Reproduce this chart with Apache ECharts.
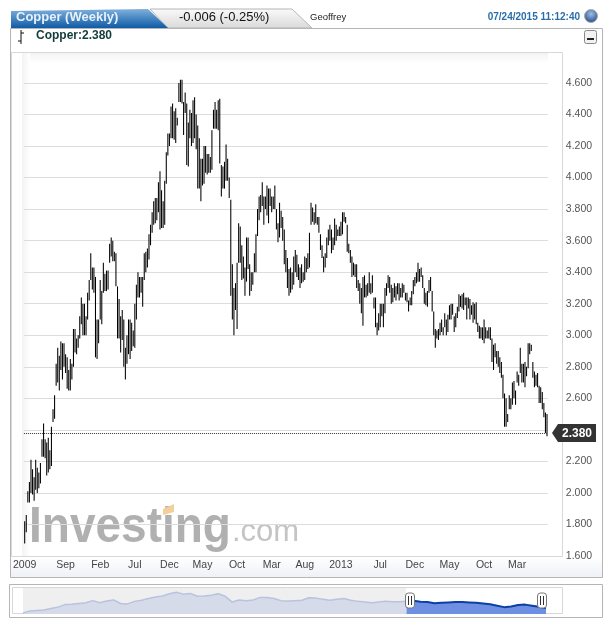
<!DOCTYPE html>
<html>
<head>
<meta charset="utf-8">
<title>Copper (Weekly)</title>
<style>
html, body { margin: 0; padding: 0; background: #fff; }
#chart { width: 613px; height: 627px; }
</style>
<script src="https://cdn.jsdelivr.net/npm/echarts@6/dist/echarts.min.js"></script>
</head>
<body>
<div id="chart"></div>
<script>
// weekly highs, ten bars per row
var highs = [
    1.82,1.86,2.01,2.07,2.21,2.15,2.10,2.21,2.16,2.13,
    2.19,2.34,2.44,2.34,2.32,2.35,2.27,2.42,2.53,2.62,
    2.82,2.92,2.87,2.96,2.95,2.95,2.88,2.86,2.78,2.85,
    2.82,3.04,3.04,2.98,3.00,3.12,3.24,3.20,3.20,3.12,
    3.27,3.35,3.52,3.43,3.43,3.37,3.10,3.10,3.35,3.28,
    3.46,3.39,3.41,3.41,3.58,3.62,3.60,3.53,3.52,3.31,
    3.23,3.12,3.16,3.10,2.92,3.00,3.10,3.10,3.08,3.03,
    3.20,3.32,3.40,3.37,3.37,3.37,3.52,3.53,3.55,3.64,
    3.70,3.78,3.85,3.87,3.87,3.97,4.04,3.92,3.85,3.98,
    4.16,4.28,4.28,4.45,4.47,4.42,4.44,4.38,4.60,4.62,
    4.62,4.48,4.54,4.47,4.35,4.43,4.41,4.49,4.51,4.40,
    4.33,4.25,4.12,4.12,4.20,4.20,4.15,4.15,4.13,4.30,
    4.43,4.48,4.43,4.49,4.50,4.08,4.07,4.10,4.21,4.12,
    4.00,3.86,3.45,3.30,3.33,3.46,3.71,3.69,3.57,3.50,
    3.43,3.62,3.62,3.45,3.40,3.40,3.52,3.64,3.80,3.88,
    3.89,3.97,3.88,3.88,3.95,3.93,3.93,3.88,3.88,3.95,
    3.80,3.71,3.84,3.79,3.75,3.67,3.54,3.49,3.42,3.43,
    3.40,3.50,3.54,3.51,3.45,3.43,3.45,3.40,3.50,3.49,
    3.52,3.65,3.84,3.81,3.78,3.83,3.75,3.75,3.64,3.57,
    3.50,3.52,3.62,3.67,3.70,3.67,3.62,3.74,3.70,3.67,
    3.69,3.72,3.78,3.78,3.75,3.70,3.58,3.54,3.50,3.46,
    3.45,3.45,3.35,3.33,3.30,3.37,3.38,3.32,3.33,3.40,
    3.33,3.38,3.24,3.24,3.08,3.14,3.20,3.20,3.20,3.30,
    3.33,3.38,3.37,3.32,3.30,3.33,3.31,3.33,3.33,3.30,
    3.33,3.32,3.27,3.27,3.22,3.24,3.28,3.35,3.37,3.40,
    3.46,3.42,3.43,3.38,3.30,3.27,3.28,3.35,3.37,3.28,
    3.15,3.04,3.03,3.04,3.08,3.10,3.05,3.14,3.10,3.13,
    3.19,3.20,3.20,3.12,3.14,3.18,3.26,3.25,3.26,3.27,
    3.24,3.24,3.24,3.23,3.19,3.21,3.20,3.21,3.08,3.06,
    3.05,3.05,3.10,3.05,3.03,3.05,3.05,2.98,2.94,2.95,
    2.90,2.90,2.86,2.83,2.75,2.63,2.60,2.50,2.62,2.60,
    2.70,2.71,2.65,2.77,2.75,2.92,2.82,2.82,2.83,2.80,
    2.95,2.95,2.94,2.83,2.77,2.75,2.76,2.68,2.67,2.64,
    2.57,2.51,2.50
];
// weekly lows
var lows = [
    1.68,1.75,1.94,1.94,2.00,1.99,1.95,2.02,2.00,2.03,
    2.06,2.23,2.23,2.22,2.11,2.13,2.15,2.17,2.45,2.47,
    2.68,2.70,2.65,2.78,2.72,2.80,2.76,2.66,2.65,2.65,
    2.72,2.80,2.89,2.88,2.92,2.98,3.07,3.00,3.00,3.00,
    3.10,3.22,3.35,3.29,3.27,2.86,2.85,2.95,3.10,3.07,
    3.27,3.28,3.28,3.29,3.46,3.50,3.47,3.47,3.31,2.98,
    2.98,2.89,2.97,2.80,2.72,2.82,2.88,2.85,2.90,2.93,
    2.92,3.10,3.24,3.24,3.27,3.18,3.35,3.40,3.43,3.48,
    3.57,3.65,3.70,3.71,3.73,3.78,3.67,3.68,3.68,3.70,
    3.96,4.14,4.20,4.25,4.25,4.24,4.22,4.33,4.48,4.48,
    4.47,4.27,4.41,4.08,4.07,4.25,4.20,4.22,4.25,4.18,
    3.93,3.93,3.85,3.95,3.96,4.03,4.02,4.03,4.03,4.05,
    4.31,4.31,4.31,4.30,4.09,3.88,3.93,3.93,3.98,3.98,
    3.87,3.25,3.10,3.00,3.16,3.04,3.46,3.46,3.35,3.36,
    3.25,3.34,3.42,3.25,3.28,3.32,3.40,3.40,3.63,3.73,
    3.78,3.82,3.70,3.80,3.76,3.71,3.82,3.78,3.80,3.80,
    3.67,3.59,3.62,3.68,3.60,3.45,3.40,3.30,3.25,3.27,
    3.29,3.32,3.40,3.37,3.35,3.30,3.33,3.34,3.35,3.40,
    3.42,3.43,3.70,3.72,3.70,3.71,3.70,3.65,3.54,3.49,
    3.40,3.43,3.49,3.57,3.60,3.52,3.54,3.57,3.60,3.63,
    3.63,3.63,3.64,3.72,3.71,3.53,3.52,3.46,3.37,3.38,
    3.37,3.30,3.28,3.20,3.14,3.06,3.24,3.24,3.25,3.27,
    3.26,3.27,3.17,3.05,3.00,3.03,3.05,3.12,3.05,3.14,
    3.25,3.30,3.27,3.20,3.21,3.24,3.22,3.26,3.22,3.24,
    3.24,3.27,3.22,3.21,3.15,3.19,3.19,3.26,3.31,3.33,
    3.34,3.34,3.37,3.30,3.20,3.19,3.18,3.27,3.28,3.15,
    3.00,2.92,2.98,2.97,3.00,3.02,3.00,3.05,3.00,3.02,
    3.10,3.10,3.13,3.02,3.05,3.11,3.15,3.18,3.17,3.16,
    3.19,3.10,3.17,3.10,3.13,3.08,3.10,3.07,3.02,2.98,
    2.98,2.97,2.95,2.98,2.98,2.98,2.97,2.83,2.78,2.86,
    2.82,2.80,2.76,2.73,2.60,2.42,2.42,2.45,2.53,2.53,
    2.56,2.60,2.56,2.70,2.68,2.76,2.70,2.70,2.67,2.74,
    2.79,2.88,2.90,2.73,2.67,2.68,2.67,2.57,2.57,2.53,
    2.48,2.38,2.36
];
var lastPrice = 2.380;

// x axis labels and the week each one sits on
var tickLabels = ['2009','Sep','Feb','Jul','Dec','May','Oct','Mar','Aug','2013','Jul','Dec','May','Oct','Mar'];
var tickWeeks = [0,26,48,70,92,113,135,157,178,201,226,248,270,292,313];

// overview strip at the bottom, coarser than the weekly bars
var navValues = [
    1.68,1.98,2.05,2.10,2.30,2.50,2.85,2.90,3.00,3.10,3.40,3.10,3.35,3.50,3.00,2.95,
    3.30,3.45,3.70,3.90,4.05,4.35,4.55,4.30,4.40,4.00,4.05,4.15,4.35,4.00,3.20,3.50,
    3.40,3.50,3.85,3.85,3.70,3.40,3.35,3.40,3.45,3.80,3.75,3.60,3.45,3.60,3.70,3.45,
    3.30,3.20,3.10,3.20,3.30,3.25,3.25,3.30,3.40,3.25,3.20,3.05,3.10,3.15,3.20,3.20,
    3.15,3.10,3.00,2.90,2.70,2.50,2.60,2.80,2.85,2.70,2.55,2.38
];
var navStart = 55;

var categories = [];
for (var i = 0; i < highs.length; i++) {
    var at = tickWeeks.indexOf(i);
    categories.push(at >= 0 ? tickLabels[at] : '');
}
var navIndex = [];
var navLight = [];
var navDark = [];
for (var j = 0; j < navValues.length; j++) {
    navIndex.push(j);
    navLight.push(j <= navStart ? navValues[j] : null);
    navDark.push(j >= navStart ? navValues[j] : null);
}
var barData = [];
for (var k = 0; k < highs.length; k++) {
    barData.push([k, lows[k], highs[k]]);
}

var font = '"Liberation Sans", Arial, sans-serif';
var chart = echarts.init(document.getElementById('chart'));

chart.setOption({
    animation: false,
    grid: [
        { left: 23.9, right: 65.2, top: 53, bottom: 71 },
        { left: 23, right: 67, top: 587, bottom: 13 }
    ],
    xAxis: [{
        type: 'category',
        data: categories,
        axisLine: { show: false },
        axisTick: { show: false },
        axisLabel: {
            interval: function (index, value) { return value !== ''; },
            fontFamily: font, fontSize: 10.5, color: '#444', margin: 4, hideOverlap: false
        },
        splitLine: { show: false }
    }, {
        type: 'category',
        gridIndex: 1,
        data: navIndex,
        boundaryGap: false,
        show: false
    }],
    yAxis: [{
        type: 'value',
        position: 'right',
        min: 1.6,
        max: 4.79,
        interval: 0.2,
        axisLine: { show: false },
        axisTick: { show: false },
        axisLabel: {
            showMaxLabel: false,
            margin: 18,
            fontFamily: font, fontSize: 10.5, color: '#555',
            formatter: function (v) { return v.toFixed(3); }
        },
        splitLine: { showMaxLine: false, showMinLine: false, lineStyle: { color: '#dcdcdc', width: 1 } }
    }, {
        type: 'value',
        gridIndex: 1,
        min: 1.55,
        max: 5.29,
        show: false
    }],
    series: [{
        type: 'custom',
        name: 'Copper',
        data: barData,
        encode: { x: 0, y: [1, 2] },
        z: 3,
        renderItem: function (params, api) {
            var low = api.coord([api.value(0), api.value(1)]);
            var high = api.coord([api.value(0), api.value(2)]);
            return {
                type: 'line',
                shape: { x1: low[0], y1: low[1], x2: high[0], y2: high[1] },
                style: { stroke: '#000', lineWidth: 1.05 }
            };
        },
        markLine: {
            silent: true,
            symbol: 'none',
            label: { show: false },
            lineStyle: { color: '#333', type: [1, 1], width: 1 },
            data: [{ yAxis: lastPrice }]
        }
    }, {
        type: 'line',
        xAxisIndex: 1,
        yAxisIndex: 1,
        data: navLight,
        symbol: 'none',
        lineStyle: { color: '#b9c3df', width: 1.5 },
        areaStyle: { color: '#d6dbea', opacity: 1 }
    }, {
        type: 'line',
        xAxisIndex: 1,
        yAxisIndex: 1,
        data: navDark,
        symbol: 'none',
        lineStyle: { color: '#0b3fa8', width: 2 },
        areaStyle: { color: '#6f90e2', opacity: 1 }
    }]
});

function box(x, y, w, h, fill, stroke, z, r) {
    return {
        type: 'rect', silent: true, z: z || 0,
        shape: { x: x, y: y, width: w, height: h, r: r || 0 },
        style: { fill: fill, stroke: stroke || null, lineWidth: 1 }
    };
}
function label(text, x, y, size, color, weight, align, z) {
    return {
        type: 'text', silent: true, z: z || 6, x: x, y: y,
        style: {
            text: text, fill: color, font: (weight || 'normal') + ' ' + size + 'px ' + font,
            textAlign: align || 'left', textVerticalAlign: 'middle'
        }
    };
}
function handle(x) {
    return [
        box(x - 4.5, 593, 9, 15, '#fff', '#777', 8, 3),
        box(x - 2, 596, 1, 9, '#333', null, 9),
        box(x + 1, 596, 1, 9, '#333', null, 9)
    ];
}

var tagY = chart.convertToPixel({ yAxisIndex: 0 }, lastPrice);

var graphics = [
    // panels
    box(10.5, 28.5, 592, 549, '#fff', '#b5b5b5', -5),
    { type: 'rect', silent: true, z: -4, shape: { x: 11, y: 557, width: 591, height: 20 },
      style: { fill: { type: 'linear', x: 0, y: 0, x2: 0, y2: 1,
        colorStops: [{ offset: 0, color: '#fff' }, { offset: 1, color: '#eef1f7' }] } } },
    box(11.5, 52.5, 551, 504, '#fff', '#d8d8d8', -3),
    { type: 'rect', silent: true, z: -2, shape: { x: 22, y: 53, width: 526, height: 10 },
      style: { fill: { type: 'linear', x: 0, y: 0, x2: 0, y2: 1,
        colorStops: [{ offset: 0, color: '#f3f3f3' }, { offset: 1, color: '#fff' }] } } },
    { type: 'rect', silent: true, z: -2, shape: { x: 22, y: 53, width: 8, height: 503 },
      style: { fill: { type: 'linear', x: 0, y: 0, x2: 1, y2: 0,
        colorStops: [{ offset: 0, color: '#f3f3f3' }, { offset: 1, color: '#fff' }] } } },
    box(9.5, 584.5, 593, 33, '#fff', '#b5b5b5', -5),
    box(12.5, 587.5, 550, 26, '#fff', '#d8d8d8', -3),
    box(23, 588, 383, 25, '#efefef', null, -2),

    // header tabs
    { type: 'polygon', silent: true, z: 2, shape: { points: [[150, 9], [292, 9], [312, 28], [168, 28]] },
      style: { fill: { type: 'linear', x: 0, y: 0, x2: 0, y2: 1,
        colorStops: [{ offset: 0, color: '#fafafa' }, { offset: 1, color: '#d9d9d9' }] }, stroke: '#b5b5b5', lineWidth: 1 } },
    { type: 'polygon', silent: true, z: 3, shape: { points: [[11, 11], [148, 9], [168, 28], [11, 28]] },
      style: { fill: { type: 'linear', x: 0, y: 0, x2: 0, y2: 1,
        colorStops: [{ offset: 0, color: '#7fb0dc' }, { offset: 1, color: '#0f5ba6' }] } } },
    label('Copper (Weekly)', 16, 17, 13, '#e8f1fa', 'bold'),
    label('-0.006 (-0.25%)', 179, 17, 13, '#111'),
    label('Geoffrey', 310, 17, 9.5, '#222'),
    label('07/24/2015 11:12:40', 580, 17, 10, '#2a6ea8', 'bold', 'right'),
    { type: 'circle', silent: true, z: 5, shape: { cx: 591, cy: 16, r: 6.5 },
      style: { fill: { type: 'radial', x: 0.5, y: 0.35, r: 0.7,
        colorStops: [{ offset: 0, color: '#9cc0ea' }, { offset: 1, color: '#1c3f7a' }] }, stroke: '#aaa', lineWidth: 1 } },

    // legend row
    { type: 'line', silent: true, z: 5, shape: { x1: 21, y1: 30, x2: 21, y2: 44 }, style: { stroke: '#111', lineWidth: 1 } },
    { type: 'line', silent: true, z: 5, shape: { x1: 21, y1: 33, x2: 24, y2: 33 }, style: { stroke: '#111', lineWidth: 1 } },
    { type: 'line', silent: true, z: 5, shape: { x1: 18, y1: 41, x2: 21, y2: 41 }, style: { stroke: '#111', lineWidth: 1 } },
    label('Copper:2.380', 36, 36, 12, '#123c3c', 'bold'),
    box(584.5, 30.5, 12, 13, '#f2f2f2', '#888', 5, 2),
    box(587, 38, 7, 2, '#222', null, 6),

    // watermark
    { type: 'text', silent: true, z: -1, x: 29, y: 528, scaleY: 1.08,
      style: { text: 'Investing', fill: '#b0b0b0', font: 'bold 46px ' + font, textVerticalAlign: 'middle' } },
    { type: 'text', silent: true, z: -1, x: 232, y: 532,
      style: { text: '.com', fill: '#c4c4c4', font: 'normal 31px ' + font, textVerticalAlign: 'middle' } },
    { type: 'polygon', silent: true, z: 0, shape: { points: [[163, 509], [174, 504], [174, 512], [163, 515]] },
      style: { fill: '#f3cf9a' } },

    // last price tag
    { type: 'polygon', silent: true, z: 7,
      shape: { points: [[552, tagY], [558, tagY - 9], [596, tagY - 9], [596, tagY + 9], [558, tagY + 9]] },
      style: { fill: '#333' } },
    label(lastPrice.toFixed(3), 562, tagY + 0.5, 12, '#fff', 'bold', 'left', 8)
].concat(handle(410), handle(542));

chart.setOption({ graphic: graphics });

window.onresize = function () {
    chart.resize();
};
</script>
</body>
</html>
